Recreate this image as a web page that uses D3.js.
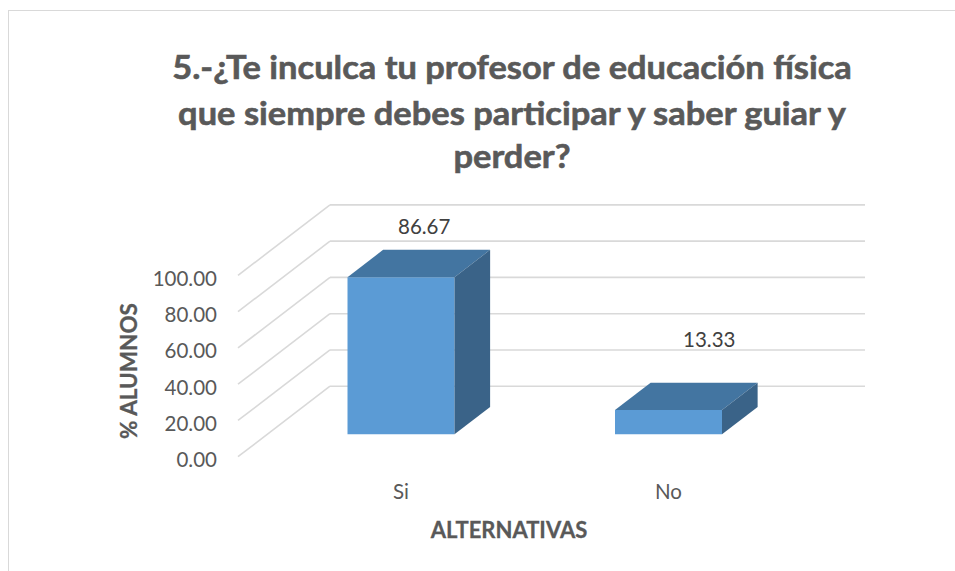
<!DOCTYPE html>
<html>
<head>
<meta charset="utf-8">
<script src="https://cdn.jsdelivr.net/npm/d3@7"></script>
<style>
  html, body { margin: 0; padding: 0; background: #ffffff; }
  svg { display: block; }
  text { font-family: Lato, "Open Sans", sans-serif; }
</style>
</head>
<body>
<svg id="chart" width="955" height="571"></svg>
<script>
// ---- data ----
const categories = ["Si", "No"];
const values = [86.67, 13.33];
const valueLabels = ["86.67", "13.33"];
const yTicks = [0, 20, 40, 60, 80, 100];
const yTickLabels = ["0.00", "20.00", "40.00", "60.00", "80.00", "100.00"];
const titleLines = [
  "5.-¿Te inculca tu profesor de educación física",
  "que siempre debes participar y saber guiar y",
  "perder?"
];
const xTitle = "ALTERNATIVAS";
const yTitle = "% ALUMNOS";

// ---- layout ----
const W = 955, H = 571;
const floorX0 = 238, floorY0 = 456.7;   // front-left corner of the floor
const plotW = 535;                      // width of the floor front
const plotH = 181.3;                    // height of 0..100
const depthDX = 92, depthDY = -70.5;    // full depth offset
const barD1 = 0.318, barD2 = 0.705;     // bar depth extent (fraction)

const svg = d3.select("#chart");

const x = d3.scaleBand().domain(categories).range([0, plotW])
  .paddingInner(0.6).paddingOuter(0.3);
const y = d3.scaleLinear().domain([0, 100]).range([0, plotH]);

function P(px, v, d) {
  return [floorX0 + px + d * depthDX, floorY0 - y(v) + d * depthDY];
}

// chart border
svg.append("rect").attr("x", 8.5).attr("y", 10.5)
  .attr("width", W + 10).attr("height", H + 10)
  .attr("fill", "none").attr("stroke", "#d9d9d9").attr("stroke-width", 1);

// back wall gridlines + left wall lines
const grid = svg.append("g").attr("stroke", "#d9d9d9").attr("stroke-width", 1.6).attr("fill", "none");
yTicks.forEach(t => {
  const a = P(0, t, 1), b = P(plotW, t, 1);
  grid.append("line").attr("x1", a[0]).attr("y1", a[1]).attr("x2", b[0]).attr("y2", b[1]);
  const f = P(0, t, 0);
  grid.append("line").attr("x1", f[0]).attr("y1", f[1]).attr("x2", a[0]).attr("y2", a[1]);
});

// y tick labels
svg.append("g").selectAll("text").data(yTicks).join("text")
  .attr("x", 217)
  .attr("y", t => P(0, t, 0)[1] + 3)
  .attr("dy", "0.36em")
  .attr("text-anchor", "end")
  .attr("font-size", 20.5)
  .attr("fill", "#595959")
  .text((t, i) => yTickLabels[i]);

// bars
const frontC = "#5b9bd5", topC = "#4375a1", sideC = "#3a6388";
const bars = svg.append("g");
const poly = pts => pts.map(p => p.join(",")).join(" ");
categories.forEach((c, i) => {
  const v = values[i];
  const x1 = x(c), x2 = x(c) + x.bandwidth();
  const g = bars.append("g");
  g.append("polygon").attr("points", poly([P(x1, 0, barD1), P(x2, 0, barD1), P(x2, v, barD1), P(x1, v, barD1)]))
    .attr("fill", frontC);
  g.append("polygon").attr("points", poly([P(x1, v, barD1), P(x2, v, barD1), P(x2, v, barD2), P(x1, v, barD2)]))
    .attr("fill", topC);
  g.append("polygon").attr("points", poly([P(x2, 0, barD1), P(x2, v, barD1), P(x2, v, barD2), P(x2, 0, barD2)]))
    .attr("fill", sideC);
});

// data labels
const labelDX = d3.scaleLinear().domain([0, 100]).range([44, 20]);
const labelY = d3.scaleLinear().domain([0, 100]).range([360.5, 206.4]);
svg.append("g").selectAll("text").data(values).join("text")
  .attr("x", (v, i) => P(x(categories[i]) + x.bandwidth() / 2, v, barD1)[0] + labelDX(v))
  .attr("y", v => labelY(v))
  .attr("dy", "0.36em")
  .attr("text-anchor", "middle")
  .attr("font-size", 20.5)
  .attr("fill", "#404040")
  .text((v, i) => valueLabels[i]);

// category labels
svg.append("g").selectAll("text").data(categories).join("text")
  .attr("x", c => P(x(c) + x.bandwidth() / 2, 0, barD1)[0])
  .attr("y", floorY0 + 35)
  .attr("dy", "0.36em")
  .attr("text-anchor", "middle")
  .attr("font-size", 20.5)
  .attr("fill", "#595959")
  .text(c => c);

// axis titles
svg.append("text")
  .attr("x", 509).attr("y", 530).attr("dy", "0.36em")
  .attr("text-anchor", "middle")
  .attr("font-size", 22).attr("font-weight", "bold")
  .attr("fill", "#595959").attr("stroke", "#595959").attr("stroke-width", 0.3)
  .text(xTitle);

svg.append("text")
  .attr("transform", "translate(129,371) rotate(-90)")
  .attr("dy", "0.36em")
  .attr("text-anchor", "middle")
  .attr("font-size", 22.5).attr("font-weight", "bold")
  .attr("fill", "#595959").attr("stroke", "#595959").attr("stroke-width", 0.3)
  .text(yTitle);

// title
const tg = svg.append("g");
const baselines = [79, 125, 168];
const tt = tg.selectAll("text").data(titleLines).join("text")
  .attr("x", 0)
  .attr("y", (d, i) => baselines[i])
  .attr("text-anchor", "middle")
  .attr("font-size", 33).attr("font-weight", "bold")
  .attr("fill", "#595959").attr("stroke", "#595959").attr("stroke-width", 0.6)
  .text(d => d);
const w0 = tt.nodes()[0].getComputedTextLength();
const k = 680 / w0;
tg.attr("transform", `translate(512,0) scale(${k},1)`);
</script>
</body>
</html>
